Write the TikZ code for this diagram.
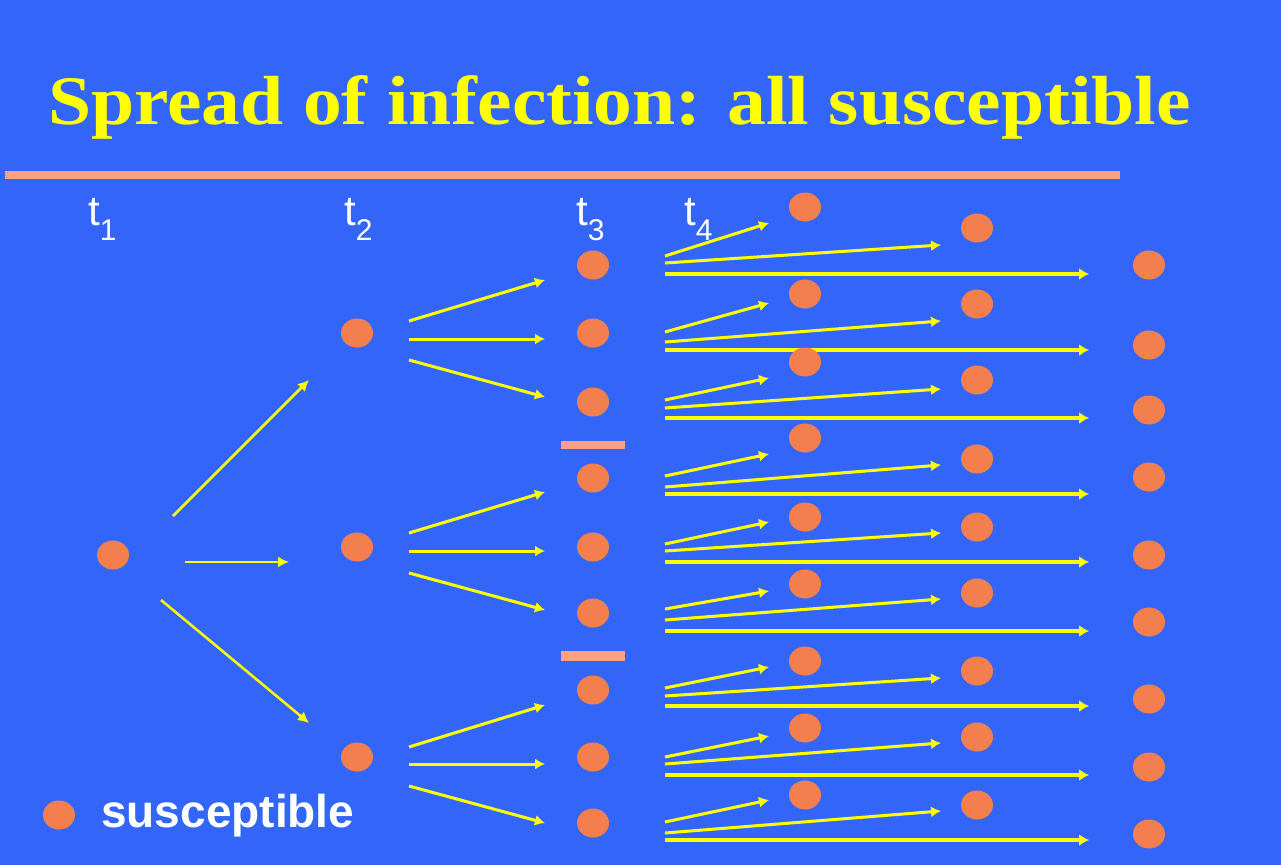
\documentclass[tikz,border=0pt]{standalone}
\usepackage{fontspec}
\usepackage{graphicx}
\setmainfont{Liberation Serif}
\newfontfamily\sansf{Liberation Sans}
\usetikzlibrary{shapes.geometric,arrows.meta}
\definecolor{bgblue}{RGB}{51,102,248}
\definecolor{dotor}{RGB}{244,127,78}
\definecolor{salmon}{RGB}{255,160,128}
\definecolor{yel}{RGB}{255,255,0}
\begin{document}
\begin{tikzpicture}[x=1pt,y=-1pt,
  dot/.style={ellipse,fill=dotor,draw=none,minimum width=32pt,minimum height=29pt,inner sep=0pt},
  arrthin/.style={draw=yel,line width=2.5pt,-{Latex[length=11pt,width=11pt]}},
  arr/.style={draw=yel,line width=3pt,-{Latex[length=10pt,width=11pt]}},
  arrlong/.style={draw=yel,line width=4pt,-{Latex[length=10pt,width=12pt]}},
  bar/.style={fill=salmon,draw=none},
  tlab/.style={anchor=base west,inner sep=0pt,text=white,font=\sansf\fontsize{42}{42}\selectfont},
  title/.style={anchor=base west,inner sep=0pt,text=yel,font=\bfseries\fontsize{69.5}{70}\selectfont},
  legend/.style={anchor=base west,inner sep=0pt,text=white,font=\sansf\bfseries\fontsize{46}{46}\selectfont}]
\newcommand{\subnum}[1]{\raisebox{-15pt}{\fontsize{30}{30}\selectfont #1}}
% background
\path[fill=bgblue] (0,0) rectangle (1281,865);
% title
\node[title] (ttl) at (48,124) {\scalebox{1.116}[1]{Spread of infection: all susceptible}};
\path[bar] (5,171) rectangle (1120,179);
% time labels
\node[tlab] (t1) at (88,225) {t\subnum{1}};
\node[tlab] (t2) at (344,225) {t\subnum{2}};
\node[tlab] (t3) at (576,225) {t\subnum{3}};
\node[tlab] (t4) at (684,225) {t\subnum{4}};
% separators at t3
\path[bar] (561,441) rectangle (625,449);
\path[bar] (561,651) rectangle (625,661);
% t1 -> t2 arrows
\coordinate (a1s) at (173,516); \coordinate (a1e) at (309,380);
\coordinate (a2s) at (185,562); \coordinate (a2e) at (289,562);
\coordinate (a3s) at (161,600); \coordinate (a3e) at (309,723);
\draw[arrthin] (a1s) -- (a1e);
\draw[arrthin] (a2s) -- (a2e);
\draw[arrthin] (a3s) -- (a3e);
% t2 -> t3 arrows
\foreach \k/\us/\ue/\m/\ls/\le in {1/321/280/339/360/397, 2/533/492/551/573/610, 3/747/705/764/786/823}{
  \coordinate (b\k u-s) at (409,\us); \coordinate (b\k u-e) at (545,\ue);
  \coordinate (b\k m-s) at (409,\m);  \coordinate (b\k m-e) at (545,\m);
  \coordinate (b\k l-s) at (409,\ls); \coordinate (b\k l-e) at (545,\le);
  \draw[arr] (b\k u-s) -- (b\k u-e);
  \draw[arr] (b\k m-s) -- (b\k m-e);
  \draw[arr] (b\k l-s) -- (b\k l-e);
}
% t3 -> t4 arrows
\foreach \g/\L/\us/\ue/\ms/\me in {1/274/256/223/263/245, 2/350/332/303/342/321, 3/418/400/378/408/389,
  4/494/476/454/487/465, 5/562/544/522/551/533, 6/631/609/591/620/599,
  7/706/688/667/696/678, 8/775/757/736/764/743, 9/840/822/800/833/811}{
  \coordinate (c\g u-s) at (665,\us); \coordinate (c\g u-e) at (769,\ue);
  \coordinate (c\g m-s) at (665,\ms); \coordinate (c\g m-e) at (941,\me);
  \coordinate (c\g l-s) at (665,\L);  \coordinate (c\g l-e) at (1089,\L);
  \draw[arr] (c\g u-s) -- (c\g u-e);
  \draw[arr] (c\g m-s) -- (c\g m-e);
  \draw[arrlong] (c\g l-s) -- (c\g l-e);
}
% dots
\node[dot] (p1) at (113,555) {};
\node[dot] (q1) at (357,333) {};
\node[dot] (q2) at (357,547) {};
\node[dot] (q3) at (357,757) {};
\foreach \i/\y in {1/265,2/333,3/402,4/478,5/547,6/613,7/690,8/757,9/823}{
  \node[dot] (r\i) at (593,\y) {};
}
\foreach \g/\da/\db/\dc in {1/207/228/265, 2/294/304/345, 3/362/380/410, 4/438/459/477,
  5/517/527/555, 6/584/593/622, 7/661/671/699, 8/728/737/767, 9/795/805/834}{
  \node[dot] (s\g a) at (805,\da) {};
  \node[dot] (s\g b) at (977,\db) {};
  \node[dot] (s\g c) at (1149,\dc) {};
}
% legend
\node[dot] (leg) at (59,815) {};
\node[legend] (legt) at (101,827) {susceptible};
\end{tikzpicture}
\end{document}
